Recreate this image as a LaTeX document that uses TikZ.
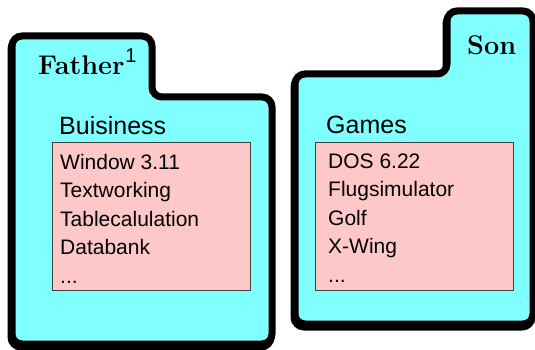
\documentclass[tikz,border=0pt]{standalone}
\usepackage{fontspec}
\setsansfont{Liberation Sans}
\usepackage{tikz}
\definecolor{foldercyan}{RGB}{128,255,255}
\definecolor{listpink}{RGB}{255,200,200}

\begin{document}
\begin{tikzpicture}[x=1pt, y=-1pt,
  folder/.style={draw=black, line width=7pt, fill=foldercyan, rounded corners=10pt},
  foldershadow/.style={draw=black, line width=7pt, fill=black, rounded corners=10pt},
  listbox/.style={draw=black!75, line width=1pt, fill=listpink, anchor=north west, inner sep=0pt, minimum width=198pt, minimum height=148pt},
  owner/.style={font=\fontsize{27}{32}\selectfont\bfseries, anchor=base west, inner sep=0pt},
  heading/.style={font=\sffamily\fontsize{25}{30}\selectfont, anchor=base west, inner sep=0pt},
  entry/.style={font=\sffamily\fontsize{21}{25}\selectfont, anchor=base west, inner sep=0pt}]
  \useasboundingbox (0,0) rectangle (535,350);
  % folders
  \path[foldershadow, shift={(-1,3)}] (12,344) -- (12,36) -- (152,36) -- (152,97) -- (272,97) -- (272,344) -- cycle;
  \path[folder] (12,344) -- (12,36) -- (152,36) -- (152,97) -- (272,97) -- (272,344) -- cycle;
  \path[foldershadow, shift={(-1,3)}] (295,324) -- (295,74) -- (447,74) -- (447,11) -- (533,11) -- (533,324) -- cycle;
  \path[folder] (295,324) -- (295,74) -- (447,74) -- (447,11) -- (533,11) -- (533,324) -- cycle;
  % owners
  \node[owner] (father) at (38,75) {Father\kern1pt\raisebox{12pt}{\sffamily\mdseries\fontsize{20}{20}\selectfont 1}};
  \node[owner] (son) at (467,55) {Son};
  % Father
  \node[heading] (business) at (59,135) {Buisiness};
  \node[listbox] (bizbox) at (52,142) {};
  \foreach \txt [count=\i] in {Window 3.11,Textworking,Tablecalulation,Databank}
    \node[entry] (biz\i) at (60,141+28.4*\i) {\txt};
  \node[entry] (biz5) at (60,283) {...};
  % Son
  \node[heading] (games) at (326,133) {Games};
  \node[listbox] (gamebox) at (315,142) {};
  \foreach \txt [count=\i] in {DOS 6.22,Flugsimulator,Golf,X-Wing}
    \node[entry] (game\i) at (328,140+28.4*\i) {\txt};
  \node[entry] (game5) at (328,282) {...};
\end{tikzpicture}
\end{document}
